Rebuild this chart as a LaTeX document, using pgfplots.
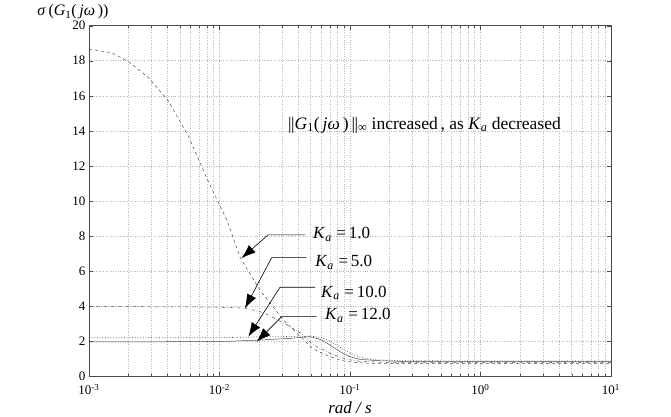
\documentclass[border=0pt]{standalone}
\usepackage{fontspec}
\setmainfont{Liberation Serif}
\usepackage{pgfplots}
\pgfplotsset{compat=1.18}
\usetikzlibrary{arrows.meta}
\begin{document}
\begin{tikzpicture}
\begin{axis}[
  scale only axis,
  width=522pt, height=350.3pt,
  xmode=log,
  xmin=1e-3, xmax=10,
  ymin=0, ymax=20,
  ytick={0,2,...,20},
  xtick={1e-3,1e-2,1e-1,1,10},
  xticklabels={10\textsuperscript{-3},10\textsuperscript{-2},10\textsuperscript{-1},10\textsuperscript{0},10\textsuperscript{1}},
  /pgf/number format/assume math mode=true,
  tick label style={font=\fontsize{13}{15}\selectfont, black},
  xticklabel style={yshift=-5pt},
  grid=both,
  major grid style={dotted, gray!55, line width=0.5pt},
  minor grid style={dotted, gray!55, line width=0.5pt},
  axis line style={black!70, line width=0.5pt},
  tick style={black!70},
  major tick length=4pt, minor tick length=2.5pt,
  clip=true,
]
\coordinate (SW) at (rel axis cs:0,0);
\coordinate (NW) at (rel axis cs:0,1);
% Ka = 1.0 (dashed)
\addplot[black!70, dashed, line width=0.5pt] coordinates {
(0.001,18.67) (0.0015,18.45) (0.002,17.96) (0.0028,17.1) (0.004,15.77)
(0.0058,13.67) (0.0081,11.2) (0.0114,8.9) (0.0144,6.76) (0.0204,4.91)
(0.0309,3.2) (0.0417,2.25) (0.052,1.55) (0.07,1.1) (0.094,0.82)
(0.133,0.73) (0.2,0.72) (1,0.72) (10,0.72)};
% Ka = 5.0 (dash-dot)
\addplot[black!70, dash dot, line width=0.5pt] coordinates {
(0.001,3.96) (0.005,3.95) (0.01,3.93) (0.016,3.87) (0.022,3.6)
(0.031,3.03) (0.0417,2.46) (0.052,1.8) (0.07,1.3) (0.094,0.95)
(0.12,0.83) (0.2,0.78) (1,0.78) (10,0.78)};
% Ka = 10.0 (dotted)
\addplot[black!80, dotted, line width=0.7pt] coordinates {
(0.001,2.18) (0.01,2.19) (0.03,2.25) (0.05,2.28) (0.06,2.2)
(0.072,1.95) (0.086,1.6) (0.1,1.3) (0.12,1.07) (0.15,0.93)
(0.25,0.87) (1,0.86) (10,0.86)};
% Ka = 12.0 (solid)
\addplot[black!70, solid, line width=0.5pt] coordinates {
(0.001,1.95) (0.01,1.96) (0.02,2.05) (0.035,2.15) (0.0493,2.25)
(0.0589,2.1) (0.0703,1.77) (0.0838,1.39) (0.1,1.1) (0.119,0.95)
(0.17,0.87) (0.3,0.82) (1,0.82) (10,0.82)};
% arrows
\draw[black, line width=0.6pt, -{Latex[length=14pt,width=10pt]}]
  (axis cs:0.0452,8.06) -- (axis cs:0.02355,8.06) -- (axis cs:0.01479,6.73);
\draw[black, line width=0.6pt, -{Latex[length=14pt,width=10pt]}]
  (axis cs:0.04656,6.76) -- (axis cs:0.02512,6.76) -- (axis cs:0.01567,3.87);
\draw[black, line width=0.6pt, -{Latex[length=14pt,width=10pt]}]
  (axis cs:0.05395,5.07) -- (axis cs:0.02911,5.07) -- (axis cs:0.01663,2.25);
\draw[black, line width=0.6pt, -{Latex[length=14pt,width=10pt]}]
  (axis cs:0.05559,3.39) -- (axis cs:0.0300,3.39) -- (axis cs:0.01928,1.96);
% labels
\node[anchor=base west, inner sep=0pt, font=\fontsize{17}{20}\selectfont] at (axis cs:0.0521,7.83) {\textit{K}\textsubscript{\textit{a}}\;=\,1.0};
\node[anchor=base west, inner sep=0pt, font=\fontsize{17}{20}\selectfont] at (axis cs:0.0540,6.23) {\textit{K}\textsubscript{\textit{a}}\;=\,5.0};
\node[anchor=base west, inner sep=0pt, font=\fontsize{17}{20}\selectfont] at (axis cs:0.0600,4.51) {\textit{K}\textsubscript{\textit{a}}\;=\,10.0};
\node[anchor=base west, inner sep=0pt, font=\fontsize{17}{20}\selectfont] at (axis cs:0.0643,3.2) {\textit{K}\textsubscript{\textit{a}}\;=\,12.0};
\node[anchor=base west, inner sep=0pt, font=\fontsize{17.5}{20}\selectfont] at (axis cs:0.0335,14.1)
  {|\kern-0.5pt|\textit{G}\textsubscript{1}(\,\textit{jω}\,)\,|\kern-0.5pt|\textsubscript{∞} increased\,, as \textit{K}\textsubscript{\textit{a}} decreased};
\end{axis}
\node[font=\fontsize{16}{18}\selectfont, anchor=center] at ([xshift=-16pt,yshift=14pt]NW) {\textit{σ}\,(\textit{G}\textsubscript{1}(\,\textit{jω}\,))};
\node[font=\fontsize{17}{20}\selectfont\itshape, anchor=center] at ([xshift=261pt,yshift=-32pt]SW) {rad / s};
\pgfresetboundingbox
\path (SW) ++(-89pt,-40pt) rectangle ++(671pt,416pt);
\end{tikzpicture}
\end{document}
